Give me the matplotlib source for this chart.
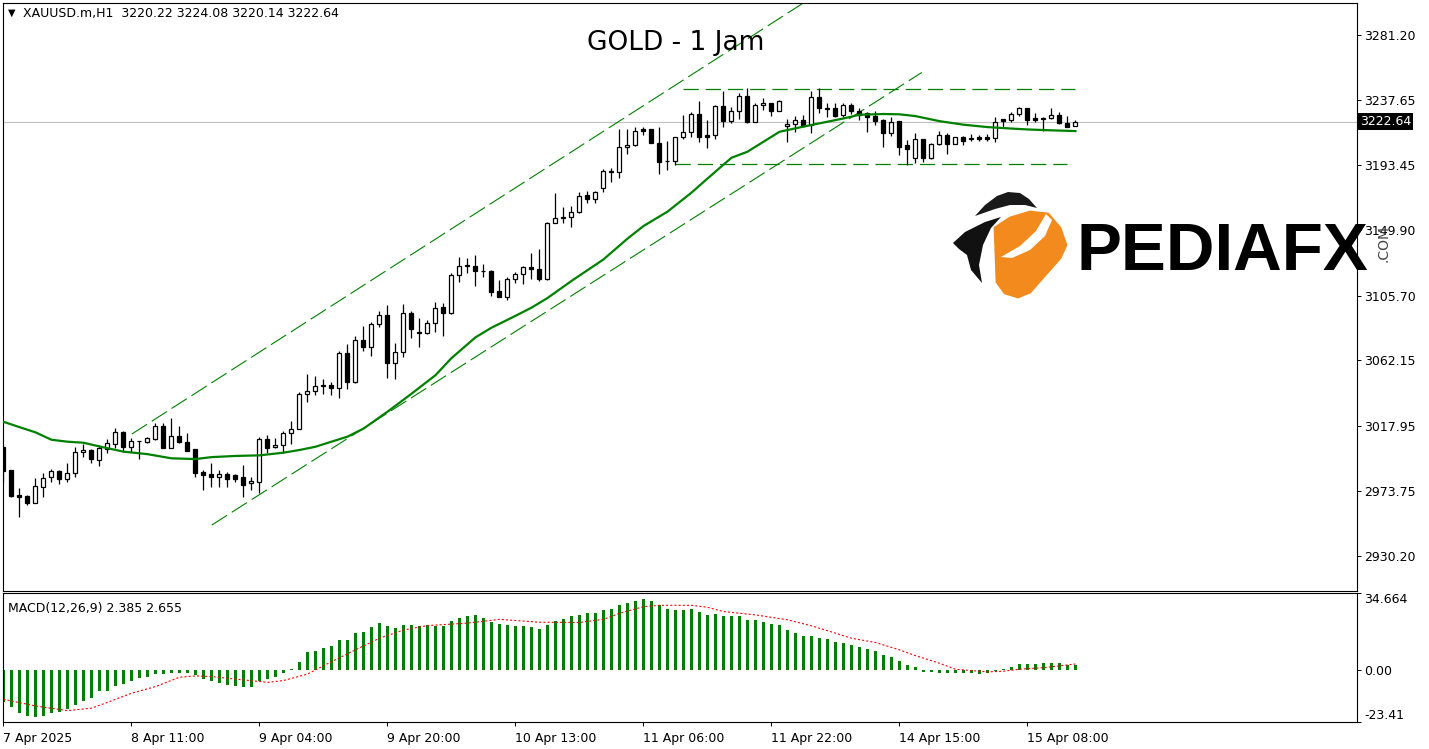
import matplotlib
matplotlib.use("Agg")
import matplotlib.pyplot as plt
import matplotlib.transforms as mtransforms
from matplotlib.patches import Polygon
import numpy as np

# XAUUSD.m H1 bars
opens = [
    3003.9, 2988.2, 2971.3, 2970.6, 2966.1, 2976.9, 2983.2, 2987.7, 2981.9, 2985.9,
    3000.1, 3001.6, 2994.7, 3002.1, 3005.5, 3014.0, 3003.9, 3007.5, 3007.2, 3009.3,
    3017.8, 3002.8, 3011.1, 3007.0, 3002.3, 2986.8, 2985.5, 2983.7, 2985.5, 2984.8,
    2983.4, 2979.2, 2980.3, 3008.8, 3003.4, 3004.8, 3012.9, 3015.5, 3039.3, 3041.4,
    3044.7, 3045.4, 3043.2, 3066.7, 3047.6, 3075.7, 3070.8, 3086.3, 3092.3, 3060.0,
    3067.4, 3093.7, 3081.1, 3080.2, 3087.0, 3097.7, 3094.1, 3119.5, 3125.6, 3125.6,
    3122.0, 3122.2, 3108.7, 3104.9, 3116.6, 3120.2, 3124.7, 3123.3, 3116.6, 3154.3,
    3158.1, 3158.4, 3162.2, 3173.4, 3170.5, 3177.9, 3188.9, 3188.7, 3205.5, 3206.9,
    3217.9, 3217.7, 3208.2, 3196.1, 3196.5, 3212.3, 3215.6, 3228.0, 3213.6, 3213.6,
    3233.3, 3223.5, 3230.0, 3240.1, 3222.8, 3233.8, 3235.1, 3230.2, 3219.9, 3221.2,
    3223.9, 3220.5, 3239.2, 3231.5, 3231.8, 3227.3, 3234.0, 3230.2, 3228.4, 3226.6,
    3224.0, 3215.0, 3223.3, 3207.1, 3198.1, 3210.9, 3198.1, 3207.8, 3213.8, 3207.8,
    3212.7, 3211.4, 3212.3, 3212.3, 3211.6, 3224.4, 3223.9, 3227.8, 3231.8, 3225.1,
    3224.8, 3225.1, 3227.1, 3222.2, 3220.22]
highs = [
    3005.0, 2988.2, 2975.8, 2971.3, 2982.5, 2985.9, 2988.6, 2988.2, 2993.1, 3003.9,
    3005.5, 3002.1, 3005.0, 3008.8, 3016.7, 3014.4, 3009.5, 3007.9, 3010.6, 3020.1,
    3019.6, 3023.0, 3017.8, 3012.9, 3002.3, 2988.2, 2992.7, 2988.2, 2986.8, 2985.5,
    2991.5, 2983.7, 3010.6, 3011.7, 3009.5, 3014.7, 3021.2, 3040.9, 3052.8, 3051.5,
    3049.2, 3047.6, 3068.3, 3073.0, 3078.4, 3085.2, 3088.1, 3095.5, 3099.3, 3073.5,
    3100.0, 3095.3, 3090.3, 3089.2, 3101.5, 3100.9, 3121.1, 3131.9, 3130.7, 3133.0,
    3126.9, 3122.9, 3116.1, 3118.4, 3121.8, 3125.6, 3134.1, 3137.0, 3155.0, 3174.5,
    3165.6, 3166.0, 3175.7, 3176.1, 3176.3, 3190.7, 3191.4, 3217.7, 3217.7, 3219.5,
    3219.5, 3217.9, 3219.0, 3210.0, 3212.7, 3227.3, 3229.6, 3236.9, 3223.9, 3234.0,
    3243.7, 3232.9, 3241.9, 3245.2, 3235.1, 3238.5, 3235.6, 3237.4, 3224.4, 3226.6,
    3227.3, 3243.7, 3245.2, 3235.1, 3235.1, 3235.1, 3235.1, 3231.8, 3229.5, 3230.2,
    3224.4, 3225.7, 3223.5, 3210.5, 3215.4, 3210.9, 3208.2, 3216.5, 3215.0, 3212.7,
    3213.2, 3214.5, 3213.8, 3214.5, 3225.7, 3224.6, 3229.1, 3232.9, 3231.8, 3228.4,
    3226.2, 3231.8, 3229.6, 3226.6, 3224.08]
lows = [
    2980.3, 2970.2, 2956.7, 2964.6, 2966.1, 2969.7, 2980.3, 2978.7, 2980.3, 2983.7,
    2997.1, 2993.1, 2990.9, 2999.8, 3002.8, 3000.5, 3000.5, 2995.3, 3006.1, 3008.4,
    3002.8, 3002.8, 3006.1, 3001.2, 2983.7, 2974.7, 2976.9, 2976.9, 2976.9, 2980.3,
    2970.2, 2974.7, 2972.4, 2999.8, 3002.8, 2999.8, 3005.5, 3015.5, 3034.2, 3038.7,
    3039.1, 3038.7, 3036.4, 3042.5, 3047.0, 3068.5, 3064.9, 3084.3, 3049.9, 3049.2,
    3064.5, 3077.3, 3071.2, 3079.5, 3081.3, 3078.6, 3093.2, 3115.0, 3120.6, 3112.3,
    3118.4, 3105.4, 3104.5, 3102.7, 3114.4, 3113.2, 3116.6, 3115.7, 3116.2, 3154.3,
    3154.3, 3151.6, 3161.5, 3167.8, 3167.8, 3175.7, 3182.4, 3184.6, 3200.8, 3206.4,
    3213.8, 3208.2, 3187.3, 3190.3, 3193.6, 3210.9, 3212.3, 3209.3, 3204.8, 3210.9,
    3219.0, 3221.7, 3224.4, 3221.7, 3222.8, 3230.6, 3226.8, 3230.2, 3209.3, 3216.0,
    3219.0, 3214.9, 3228.9, 3226.2, 3226.2, 3226.2, 3228.0, 3223.9, 3216.0, 3220.5,
    3206.0, 3213.4, 3200.4, 3193.6, 3195.2, 3195.9, 3197.4, 3207.1, 3201.0, 3207.6,
    3207.1, 3210.0, 3210.0, 3210.0, 3209.3, 3218.3, 3222.8, 3226.6, 3220.6, 3222.8,
    3216.8, 3224.4, 3221.0, 3219.5, 3220.14]
closes = [
    2987.7, 2970.6, 2970.2, 2966.1, 2977.4, 2982.5, 2987.7, 2981.9, 2985.9, 3000.1,
    3001.6, 2995.3, 3003.0, 3006.1, 3013.5, 3003.9, 3007.7, 3007.9, 3009.5, 3017.8,
    3002.8, 3011.1, 3006.8, 3001.2, 2986.4, 2984.8, 2983.7, 2985.5, 2981.9, 2982.3,
    2978.3, 2980.7, 3008.8, 3003.2, 3005.0, 3012.9, 3015.6, 3039.3, 3041.1, 3044.7,
    3045.2, 3043.2, 3066.7, 3047.6, 3075.7, 3070.8, 3086.3, 3092.3, 3060.0, 3067.4,
    3093.7, 3082.9, 3080.2, 3087.0, 3097.1, 3094.1, 3119.5, 3125.6, 3126.0, 3122.4,
    3122.4, 3108.3, 3104.9, 3116.6, 3120.2, 3124.7, 3123.3, 3116.8, 3154.3, 3157.7,
    3158.6, 3162.2, 3173.0, 3170.5, 3175.2, 3189.8, 3189.4, 3205.5, 3206.9, 3216.8,
    3216.8, 3208.2, 3195.4, 3196.5, 3212.3, 3215.6, 3228.0, 3212.2, 3212.7, 3233.3,
    3223.5, 3230.0, 3240.1, 3222.8, 3234.0, 3235.1, 3230.2, 3236.9, 3221.2, 3223.9,
    3219.9, 3239.2, 3231.8, 3232.0, 3226.6, 3234.0, 3230.2, 3227.3, 3226.2, 3223.5,
    3215.0, 3222.8, 3206.0, 3204.2, 3210.9, 3198.1, 3207.8, 3213.8, 3207.6, 3212.3,
    3210.0, 3211.8, 3211.1, 3211.1, 3222.8, 3223.5, 3228.0, 3231.8, 3224.0, 3224.0,
    3225.3, 3227.1, 3222.2, 3219.5, 3222.64]

# moving average (green line), read at these bars
ma_bars = [0, 2, 4, 6, 8, 10, 12, 15, 18, 21, 24, 26, 29, 32, 35, 37, 39, 43, 45, 48,
           51, 54, 56, 59, 61, 64, 66, 68, 71, 75, 78, 80, 83, 86, 88, 91, 93, 95, 97,
           100, 102, 105, 107, 110, 112, 114, 117, 120, 123, 126, 128, 131, 134]
ma_vals = [3020.6, 3017.0, 3013.5, 3008.5, 3007.2, 3006.5, 3004.0, 3000.5, 2998.8,
           2996.0, 2995.5, 2996.8, 2997.6, 2998.0, 2999.8, 3001.6, 3003.8, 3010.6,
           3016.0, 3027.4, 3039.5, 3052.0, 3063.5, 3077.5, 3084.0, 3092.0, 3097.5,
           3104.0, 3115.5, 3130.0, 3144.0, 3152.5, 3162.2, 3175.0, 3184.5, 3198.5,
           3202.6, 3209.3, 3216.0, 3219.5, 3221.7, 3225.0, 3227.5, 3228.0, 3227.8,
           3226.6, 3223.2, 3220.8, 3219.2, 3218.2, 3217.6, 3217.0, 3216.5]

# MACD(12,26,9) main histogram, one value per bar
macd_hist = [
    -14.6, -16.7, -19.2, -20.6, -21.0, -20.5, -19.2, -18.7, -17.7, -15.7,
    -13.8, -12.5, -9.4, -9.3, -7.1, -6.3, -5.0, -3.7, -3.3, -1.9,
    -1.8, -1.5, -1.5, -1.5, -2.5, -4.2, -5.2, -5.7, -6.6, -7.1,
    -7.5, -7.5, -5.2, -4.2, -3.0, -1.2, 0.3, 3.7, 7.9, 8.3,
    9.8, 10.8, 13.5, 13.5, 16.5, 16.9, 19.4, 21.0, 19.9, 18.7,
    20.2, 20.2, 19.8, 20.0, 19.9, 19.9, 21.9, 23.2, 24.4, 24.7,
    23.2, 21.4, 20.5, 20.2, 19.9, 19.9, 19.4, 18.3, 20.2, 22.0,
    22.9, 24.0, 24.8, 25.4, 25.4, 26.9, 27.3, 29.2, 30.0, 31.0,
    31.9, 31.0, 29.2, 27.3, 26.9, 26.9, 27.3, 25.9, 24.7, 25.2,
    24.2, 24.0, 24.4, 22.5, 22.5, 21.4, 20.6, 20.2, 17.9, 16.7,
    15.2, 15.2, 14.2, 13.8, 12.5, 11.9, 11.2, 10.2, 9.4, 8.5,
    6.7, 6.0, 4.2, 2.3, 1.5, -0.8, -0.9, -1.2, -1.5, -1.5,
    -1.5, -1.5, -1.8, -1.5, -0.4, 0.4, 1.2, 2.7, 2.7, 2.7,
    3.3, 3.3, 3.3, 2.4, 2.385]
# signal line (red dotted), read at these bars
sig_bars = [0, 4, 8, 11, 13, 16, 19, 22, 24, 26, 30, 33, 35, 38, 41, 44, 47, 50, 53,
            58, 62, 67, 72, 75, 77, 80, 82, 86, 88, 90, 94, 98, 101, 104, 106, 109,
            112, 114, 117, 119, 121, 123, 125, 127, 130, 132, 134]
sig_vals = [-13.2, -16.2, -18.3, -17.2, -14.6, -10.5, -7.5, -3.3, -2.7, -3.0, -4.5,
            -5.6, -4.8, -1.9, 3.7, 9.0, 14.2, 17.9, 19.9, 21.0, 22.7, 21.4, 21.3,
            22.7, 25.4, 28.4, 29.0, 29.0, 28.1, 26.2, 24.7, 22.5, 19.8, 16.5, 14.2,
            12.3, 9.0, 6.4, 3.0, 0.3, -0.3, -0.9, -0.6, 0.3, 1.0, 1.8, 2.655]

# drawn objects: channel lines (bar, price) and horizontal levels
channel_upper = ([16.05, 101.0], [3012.4, 3306.3])
channel_lower = ([26.05, 114.8], [2951.1, 3256.0])
resistance = (85, 134, 3244.6)
support = (84, 133, 3194.0)

last_price = 3222.64
price_ticks = [3281.20, 3237.65, 3193.45, 3149.90, 3105.70, 3062.15, 3017.95, 2973.75, 2930.20]
macd_ticks = [34.664, 0.0, -23.41]
macd_tick_labels = ["34.664", "0.00", "-23.41"]
time_ticks = [0, 16, 32, 48, 64, 80, 96, 112, 128]
time_labels = ["7 Apr 2025", "8 Apr 11:00", "9 Apr 04:00", "9 Apr 20:00", "10 Apr 13:00",
               "11 Apr 06:00", "11 Apr 22:00", "14 Apr 15:00", "15 Apr 08:00"]

W, H = 1429, 749
FS = 9.0
plt.rcParams["font.family"] = "DejaVu Sans"
plt.rcParams["lines.scale_dashes"] = False

fig = plt.figure(figsize=(W / 100, H / 100), dpi=100, facecolor="white")


def px_rect(l, t, r, b):
    return [l / W, 1 - b / H, (r - l) / W, (b - t) / H]


ax = fig.add_axes(px_rect(2.5, 3, 1357, 590.7))
ax2 = fig.add_axes(px_rect(2.5, 592.7, 1357, 722))
GREEN = "#008000"

x = np.arange(len(closes))
o = np.array(opens)
c = np.array(closes)
up = c >= o

ax.vlines(x, lows, highs, color="black", linewidth=0.9, zorder=2)
ax.bar(x[up], (c - o)[up], bottom=o[up], width=0.5, color="white",
       edgecolor="black", linewidth=0.9, zorder=3)
ax.bar(x[~up], (o - c)[~up], bottom=c[~up], width=0.5, color="black",
       edgecolor="black", linewidth=0.9, zorder=3)

ax.plot(ma_bars, ma_vals, color=GREEN, linewidth=1.6, zorder=4)
ax.plot(*channel_upper, color=GREEN, linewidth=0.8, dashes=(13, 4), zorder=1)
ax.plot(*channel_lower, color=GREEN, linewidth=0.8, dashes=(13, 4), zorder=1)
ax.hlines(resistance[2], resistance[0], resistance[1], color=GREEN, linewidth=0.9,
          linestyles=(0, (11, 5)), zorder=1)
ax.hlines(support[2], support[0], support[1], color=GREEN, linewidth=0.9,
          linestyles=(0, (11, 5)), zorder=1)
ax.axhline(last_price, color="#c0c0c0", linewidth=0.8, zorder=0.5)

ax.set_xlim(-0.125, 169.2)
ax.set_ylim(2906.8, 3302.8)
ax.set_xticks([])
ax.yaxis.tick_right()
ax.set_yticks(price_ticks)
ax.set_yticklabels([f"{v:.2f}" for v in price_ticks])
ax.tick_params(axis="y", direction="out", length=3, width=0.7, pad=2, labelsize=FS)

blend = mtransforms.blended_transform_factory(ax.transAxes, ax.transData)
ax.text(1.002, last_price, f"{last_price:.2f}", transform=blend, color="white",
        fontsize=FS, va="center", ha="left",
        bbox=dict(facecolor="black", edgecolor="none", pad=1.4), zorder=20)

# MACD window
ax2.bar(x, macd_hist, width=0.42, color=GREEN, zorder=2)
ax2.plot(sig_bars, sig_vals, color="red", linewidth=0.8, dashes=(1.5, 1.5), zorder=3)
ax2.set_xlim(-0.125, 169.2)
ax2.set_ylim(-23.41, 34.664)
ax2.yaxis.tick_right()
ax2.set_yticks(macd_ticks)
ax2.set_yticklabels(macd_tick_labels)
ax2.tick_params(axis="y", direction="out", length=3, width=0.7, pad=2, labelsize=FS)
ylbls = ax2.get_yticklabels()
ylbls[0].set_va("top")
ylbls[2].set_va("bottom")
ax2.set_xticks(time_ticks)
ax2.set_xticklabels(time_labels)
ax2.tick_params(axis="x", direction="out", length=3, width=0.7, pad=4, labelsize=FS)
for lbl in ax2.get_xticklabels():
    lbl.set_ha("left")
ax2.text(0.004, 0.93, "MACD(12,26,9) 2.385 2.655", transform=ax2.transAxes,
         fontsize=FS, va="top", ha="left")

for a in (ax, ax2):
    for s in a.spines.values():
        s.set_linewidth(0.8)

# header and title
pxT = mtransforms.Affine2D().scale(1 / W, -1 / H).translate(0, 1) + fig.transFigure
fig.text(8, 13, "▼", transform=pxT, fontsize=7, va="center", ha="left")
fig.text(23, 13, "XAUUSD.m,H1  3220.22 3224.08 3220.14 3222.64", transform=pxT,
         fontsize=FS, va="center", ha="left")
fig.text(676, 43, "GOLD - 1 Jam", transform=pxT, fontsize=19, va="center", ha="center")

# PEDIAFX watermark
ORANGE = "#f28a1e"
fig.add_artist(Polygon([(995, 228), (1010, 218), (1030, 212), (1048, 214), (1060, 228),
                        (1066, 245), (1060, 258), (1030, 292), (1018, 297), (1005, 293),
                        (997, 282)], closed=True, facecolor=ORANGE, edgecolor=ORANGE,
                       linewidth=2, joinstyle="round", transform=pxT, zorder=30))
fig.add_artist(Polygon([(1001, 257), (1020, 246), (1036, 231), (1046, 214), (1052, 220),
                        (1045, 236), (1030, 250), (1012, 258)], closed=True,
                       facecolor="white", edgecolor="none", transform=pxT, zorder=31))
fig.add_artist(Polygon([(975, 216), (985, 205), (997, 196), (1008, 192), (1020, 193),
                        (1029, 199), (1037, 208), (1025, 205), (1010, 205), (995, 209)],
                       closed=True, facecolor="#1a1a1a", edgecolor="none",
                       transform=pxT, zorder=31))
fig.add_artist(Polygon([(953, 243), (965, 232), (985, 222), (1001, 217), (991, 228),
                        (983, 245), (979, 265), (982, 283), (971, 270), (967, 255),
                        (959, 249)], closed=True, facecolor="#111111", edgecolor="none",
                       transform=pxT, zorder=31))
fig.text(1077, 270, "PEDIAFX", transform=pxT, fontsize=48.5, family="Liberation Sans",
         weight="bold", va="baseline", ha="left", zorder=32)
fig.text(1384, 243, ".COM", transform=pxT, fontsize=10, rotation=90, color="#444444",
         va="center", ha="center", zorder=32)

fig.savefig("out.png", dpi=100, facecolor="white")
